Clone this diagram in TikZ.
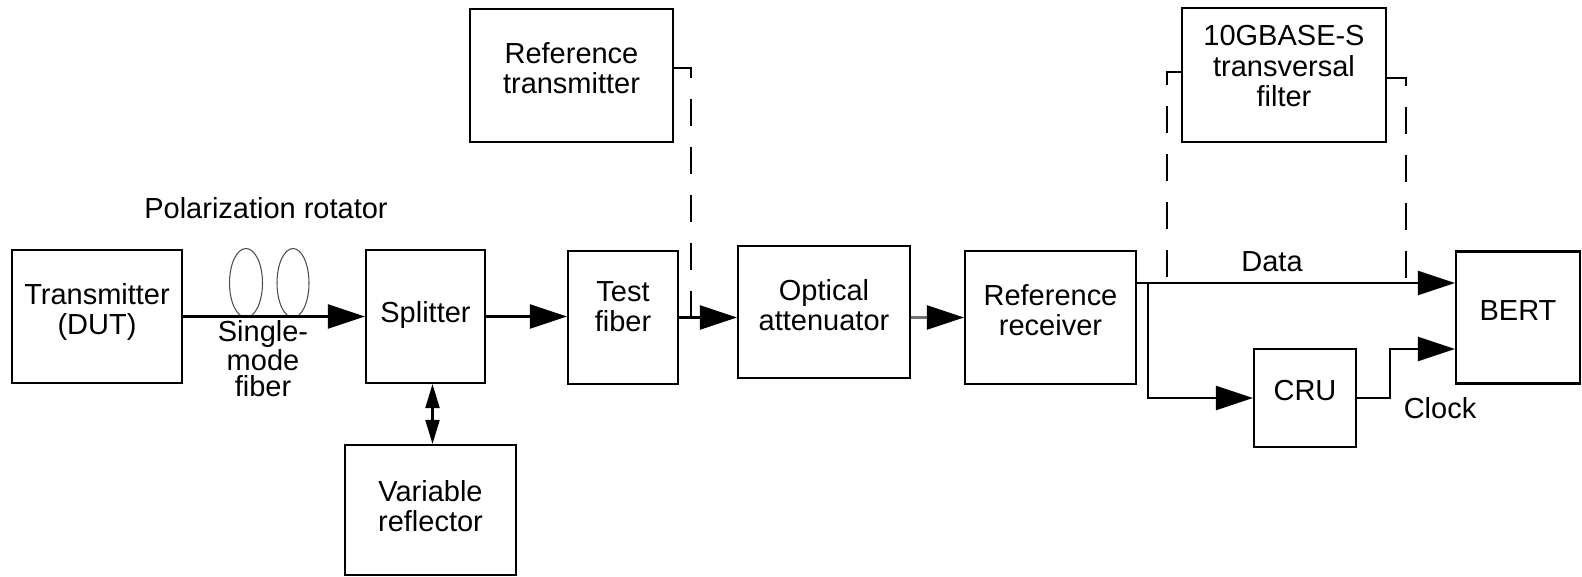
\documentclass[tikz,border=0pt]{standalone}
\usepackage{fontspec}
\setmainfont{Liberation Sans}
\usetikzlibrary{arrows.meta}

\begin{document}
\begin{tikzpicture}[x=0.02cm, y=-0.02cm,
    font=\fontsize{16.5}{17.2}\selectfont,
    blk/.style={draw, line width=1.2pt, inner sep=0pt},
    lbl/.style={align=center, yshift=#1},
    lbl/.default=4pt,
    arr/.style={line width=1.2pt, -{Triangle[length=0.74cm, width=0.48cm, color=black]}},
    dbl/.style={line width=1.2pt, {Triangle[length=0.48cm, width=0.28cm]}-{Triangle[length=0.48cm, width=0.28cm]}},
    dsh/.style={line width=1pt, dash pattern=on 0.54cm off 0.42cm}]

    \useasboundingbox (0,0) rectangle (1582,577);

    % main chain of blocks
    \node[blk, minimum width=3.4cm, minimum height=2.66cm, label={[lbl=2.5pt]center:{Transmitter\\(DUT)}}] (tx) at (97,316.5) {};
    \node[blk, minimum width=2.38cm, minimum height=2.66cm, label={[lbl=1pt]center:{Splitter}}] (spl) at (425.5,316.5) {};
    \node[blk, minimum width=3.42cm, minimum height=2.6cm, label={[lbl=2pt]center:{Variable\\reflector}}] (refl) at (430.5,510) {};
    \node[blk, minimum width=2.2cm, minimum height=2.66cm, label={[lbl=6pt]center:{Test\\fiber}}] (tf) at (623,317.5) {};
    \node[blk, minimum width=4.06cm, minimum height=2.66cm, label={[lbl]center:{Reference\\transmitter}}] (rtx) at (571.5,75.5) {};
    \node[blk, minimum width=3.44cm, minimum height=2.64cm, label={[lbl]center:{Optical\\attenuator}}] (att) at (824,312) {};
    \node[blk, minimum width=3.42cm, minimum height=2.66cm, label={[lbl]center:{Reference\\receiver}}] (rrx) at (1050.5,317.5) {};
    \node[blk, minimum width=4.08cm, minimum height=2.68cm, label={[lbl=5pt]center:{10GBASE-S\\transversal\\filter}}] (flt) at (1284,75) {};
    \node[blk, minimum width=2.04cm, minimum height=1.96cm, label={[lbl]center:{CRU}}] (cru) at (1305,398) {};
    \node[blk, minimum width=2.48cm, minimum height=2.64cm, label={[lbl]center:{BERT}}] (bert) at (1518,317.5) {};

    % free labels
    \node (polrot) at (266,208) {Polarization rotator};
    \node[align=center, font=\fontsize{16.5}{14.8}\selectfont] (smf) at (263,359) {Single-\\mode\\fiber};
    \node (data) at (1272,262) {Data};
    \node (clock) at (1440,408) {Clock};

    % fiber loops
    \draw[line width=0.6pt, black!70] (246,283) ellipse [x radius=0.33cm, y radius=0.69cm];
    \draw[line width=0.6pt, black!70] (293,283) ellipse [x radius=0.32cm, y radius=0.69cm];

    % signal path
    \draw[arr] (tx.east) -- (spl.west);
    \draw[arr] (spl.east) -- (spl.east -| tf.west);
    \draw[arr] (tf.east) -- (tf.east -| att.west);
    \draw[arr, draw=black!55] (att.east |- rrx.west) -- (rrx.west);
    \draw[dbl] ([xshift=0.04cm]refl.north) -- ([xshift=0.04cm]refl.north |- spl.south);

    % reference transmitter, dashed
    \coordinate (rj) at (691,316);
    \draw[dsh] ([yshift=0.15cm]rtx.east) -| (rj);

    % filter in the data path, dashed
    \coordinate (fl) at (1167,283);
    \coordinate (fr) at (1406,283);
    \draw[dsh] ([yshift=0.06cm]flt.west) -| (fl);
    \draw[dsh] ([yshift=-0.06cm]flt.east) -| (fr);

    % data and clock to BERT
    \draw[arr] ([yshift=0.69cm]rrx.east) -- ([yshift=0.69cm]rrx.east -| bert.west);
    \coordinate (br) at (1148,283);
    \draw[arr] (br) |- (cru.west);
    \draw[arr] (cru.east) -- ++(33,0) |- ([yshift=-0.63cm]bert.west);
\end{tikzpicture}
\end{document}
